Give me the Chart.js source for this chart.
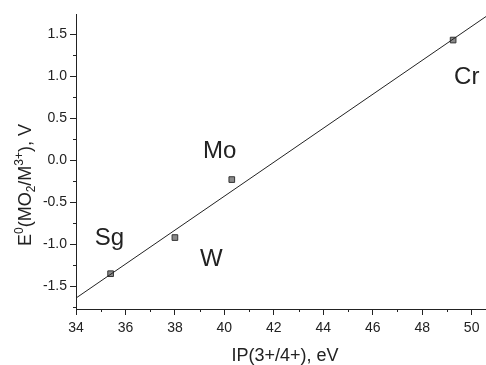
<!DOCTYPE html>
<html>
<head>
<meta charset="utf-8">
<script src="https://cdn.jsdelivr.net/npm/chart.js@4"></script>
<style>
	html, body { margin: 0; padding: 0; background: #fff; overflow: hidden; }
	canvas { display: block; }
</style>
</head>
<body>
<canvas id="ipChart" width="486" height="365"></canvas>
<script>
// measured points
var elements = ['Sg', 'W', 'Mo', 'Cr'];
var ip = [35.4, 38.0, 40.3, 49.25];
var e0 = [-1.35, -0.92, -0.23, 1.43];

// fitted line
var fitX = [34, 50.58];
var fitY = [-1.64, 1.71];

// where the element names sit (data coords)
var labelX = [35.35, 39.47, 39.81, 49.8];
var labelY = [-0.93, -1.18, 0.1, 0.98];

var xTicks = [34, 36, 38, 40, 42, 44, 46, 48, 50];
var yTicks = [-1.5, -1.0, -0.5, 0.0, 0.5, 1.0, 1.5];
var xMinor = [35, 37, 39, 41, 43, 45, 47, 49];
var yMinor = [-1.75, -1.25, -0.75, -0.25, 0.25, 0.75, 1.25];

var xTitle = 'IP(3+/4+), eV';
// E0(MO2/M3+), V  -- pieces: [text, 0 normal / 1 sup / -1 sub]
var yTitleParts = [['E', 0], ['0', 1], ['(MO', 0], ['2', -1], ['/M', 0], ['3+', 1], ['), V', 0]];

var ink = '#222';
var font = '"Liberation Sans", Arial, sans-serif';

function drawRich(ctx, parts, cx, cy) {
	var big = '18px ' + font, small = '12px ' + font;
	var total = 0;
	parts.forEach(function (p) {
		ctx.font = p[1] ? small : big;
		total += ctx.measureText(p[0]).width;
	});
	var x = cx - total / 2;
	ctx.textAlign = 'left';
	ctx.textBaseline = 'alphabetic';
	parts.forEach(function (p) {
		ctx.font = p[1] ? small : big;
		var dy = p[1] === 1 ? -8 : (p[1] === -1 ? 4 : 0);
		ctx.fillText(p[0], x, cy + dy);
		x += ctx.measureText(p[0]).width;
	});
}

var extras = {
	id: 'extras',
	afterDraw: function (chart) {
		var ctx = chart.ctx;
		var xs = chart.scales.x, ys = chart.scales.y;
		var area = chart.chartArea;
		ctx.save();
		ctx.strokeStyle = ink;
		ctx.lineWidth = 1;
		// minor ticks
		ctx.beginPath();
		xMinor.forEach(function (v) {
			var px = Math.round(xs.getPixelForValue(v)) + 0.5;
			ctx.moveTo(px, area.bottom);
			ctx.lineTo(px, area.bottom + 3);
		});
		yMinor.forEach(function (v) {
			var py = Math.round(ys.getPixelForValue(v)) + 0.5;
			ctx.moveTo(area.left, py);
			ctx.lineTo(area.left - 3, py);
		});
		ctx.stroke();

		// element names
		ctx.fillStyle = ink;
		ctx.font = '24px ' + font;
		ctx.textAlign = 'center';
		ctx.textBaseline = 'middle';
		elements.forEach(function (name, i) {
			ctx.fillText(name, xs.getPixelForValue(labelX[i]), ys.getPixelForValue(labelY[i]));
		});

		// axis titles
		ctx.font = '18px ' + font;
		ctx.fillText(xTitle, (area.left + area.right) / 2 + 4, 356);
		ctx.translate(31, 185);
		ctx.rotate(-Math.PI / 2);
		drawRich(ctx, yTitleParts, 0, 0);
		ctx.restore();
	}
};

var ipChart = new Chart(document.getElementById('ipChart'), {
	type: 'scatter',
	data: {
		datasets: [
			{
				label: 'fit',
				data: fitX.map(function (x, i) { return { x: x, y: fitY[i] }; }),
				showLine: true,
				borderColor: ink,
				borderWidth: 1,
				pointRadius: 0,
			},
			{
				label: 'E0',
				data: ip.map(function (x, i) { return { x: x, y: e0[i] }; }),
				pointStyle: 'rect',
				pointRadius: 4,
				backgroundColor: '#8a8a8a',
				borderColor: '#333',
				borderWidth: 1,
			},
		],
	},
	options: {
		responsive: false,
		animation: false,
		layout: { autoPadding: false, padding: { top: 14, right: 0, left: 0, bottom: 0 } },
		plugins: {
			legend: { display: false },
			tooltip: { enabled: false },
		},
		scales: {
			x: {
				type: 'linear',
				min: 34,
				max: 50.58,
				afterBuildTicks: function (s) { s.ticks = xTicks.map(function (v) { return { value: v }; }); },
				afterFit: function (s) {
					s.height = 56;
					s.paddingLeft = 0;
					s.paddingRight = 0;
				},
				grid: { drawOnChartArea: false, tickLength: 6, color: ink },
				border: { color: ink },
				ticks: {
					color: ink,
					padding: 5,
					maxRotation: 0,
					font: { family: font, size: 14 },
				},
			},
			y: {
				type: 'linear',
				min: -1.77,
				max: 1.74,
				afterBuildTicks: function (s) { s.ticks = yTicks.map(function (v) { return { value: v }; }); },
				afterFit: function (s) {
					s.width = 76;
					s.paddingTop = 0;
					s.paddingBottom = 0;
				},
				grid: { drawOnChartArea: false, tickLength: 6, color: ink },
				border: { color: ink },
				ticks: {
					color: ink,
					padding: 3,
					font: { family: font, size: 14 },
					callback: function (v) { return Number(v).toFixed(1); },
				},
			},
		},
	},
	plugins: [extras],
});
</script>
</body>
</html>
